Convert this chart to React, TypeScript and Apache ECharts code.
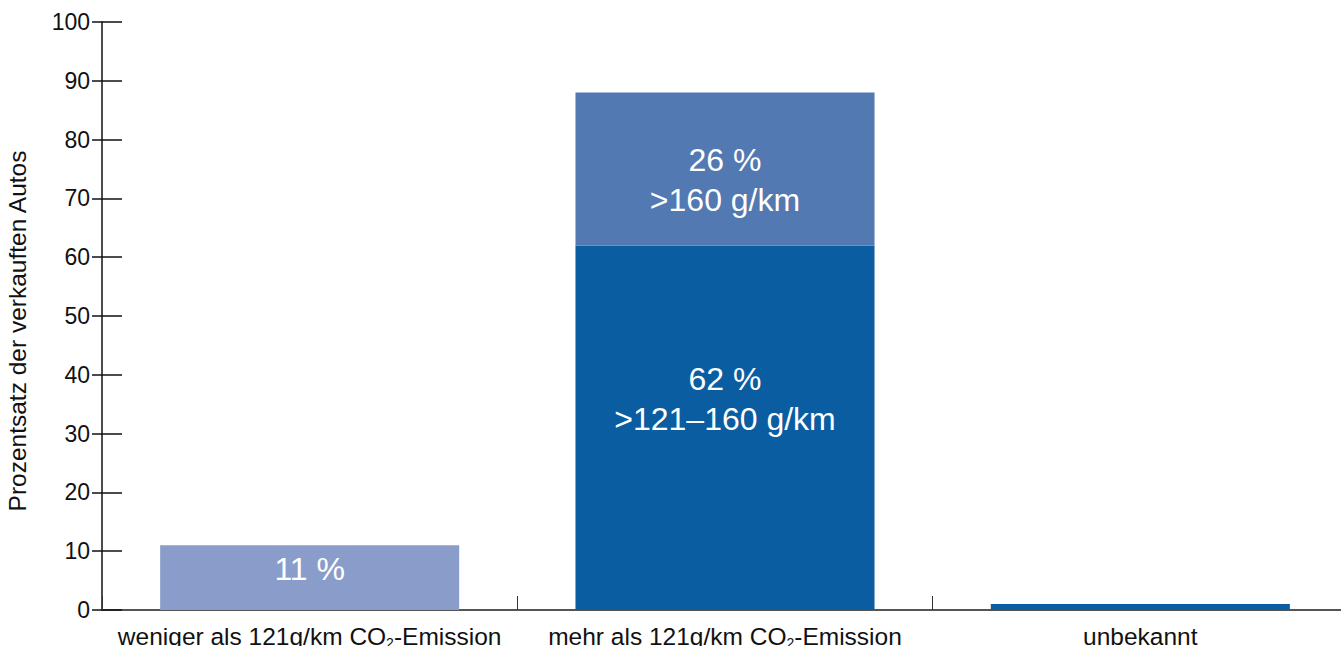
import React, { useEffect, useRef } from "react";
import * as echarts from "echarts";

const categories = [
  "weniger als 121g/km CO2-Emission",
  "mehr als 121g/km CO2-Emission",
  "unbekannt",
];
const lowShare = [11, null, null];
const midShare = [null, 62, 1];
const highShare = [null, 26, null];
const lowLabels = ["11 %", "", ""];
const midLabels = ["", "62 %\n>121–160 g/km", ""];
const highLabels = ["", "26 %\n>160 g/km", ""];
const yTicks = [0, 10, 20, 30, 40, 50, 60, 70, 80, 90, 100];

const FONT = "Liberation Sans, Arial, Helvetica, sans-serif";

function fmtCat(v: string) {
  const parts = v.split("CO2");
  if (parts.length === 2) return `{n|${parts[0]}CO}{s|2}{n|${parts[1]}}`;
  return `{n|${v}}`;
}

function toData(vals: (number | null)[]) {
  return vals.map((v) => (v == null ? "-" : v));
}

export default function App() {
  const ref = useRef<HTMLDivElement>(null);
  useEffect(() => {
    if (!ref.current) return;
    const chart = echarts.init(ref.current, undefined, { renderer: "svg" });
    const barLabel = (texts: string[], offsetY: number) => ({
      show: true,
      position: "inside",
      offset: [0, offsetY],
      color: "#ffffff",
      fontFamily: FONT,
      fontSize: 32,
      lineHeight: 40,
      align: "center",
      formatter: (p: any) => texts[p.dataIndex] || "",
    });
    chart.setOption({
      animation: false,
      backgroundColor: "#ffffff",
      grid: {
        left: 102,
        top: 22,
        bottom: 36,
        width: 1246,
        containLabel: false,
        outerBoundsMode: "none",
      },
      xAxis: {
        type: "category",
        data: categories,
        axisLine: { show: true, lineStyle: { color: "#555555", width: 2 } },
        axisTick: { show: true, inside: true, length: 14, lineStyle: { color: "#333333", width: 1 } },
        axisLabel: {
          margin: 12,
          formatter: fmtCat,
          rich: {
            n: { fontFamily: FONT, fontSize: 24.5, lineHeight: 28, color: "#111111" },
            s: { fontFamily: FONT, fontSize: 14, lineHeight: 14, verticalAlign: "bottom", color: "#111111" },
          },
        },
        splitLine: { show: false },
      },
      yAxis: [
        {
          type: "value",
          min: yTicks[0],
          max: yTicks[yTicks.length - 1],
          interval: 10,
          name: "Prozentsatz der verkauften Autos",
          nameLocation: "middle",
          nameRotate: 90,
          nameGap: 72,
          nameTextStyle: { fontFamily: FONT, fontSize: 24.5, color: "#111111", padding: [0, 30, 0, 0] },
          axisLine: { show: true, lineStyle: { color: "#111111", width: 1.5 } },
          axisTick: { show: true, inside: false, length: 10, lineStyle: { color: "#111111", width: 1.5 } },
          axisLabel: { margin: 12, fontFamily: FONT, fontSize: 23, color: "#111111" },
          splitLine: { show: false },
        },
        {
          type: "value",
          position: "left",
          min: yTicks[0],
          max: yTicks[yTicks.length - 1],
          interval: 10,
          axisLine: { show: false },
          axisTick: { show: true, inside: true, length: 20, lineStyle: { color: "#111111", width: 1.5 } },
          axisLabel: { show: false },
          splitLine: { show: false },
        },
      ],
      series: [
        {
          type: "bar",
          stack: "total",
          barWidth: "72%",
          data: toData(lowShare),
          itemStyle: { color: "#8A9DCA" },
          label: barLabel(lowLabels, -9),
        },
        {
          type: "bar",
          stack: "total",
          barWidth: "72%",
          data: toData(midShare),
          itemStyle: { color: "#0A5DA0" },
          label: barLabel(midLabels, -29),
        },
        {
          type: "bar",
          stack: "total",
          barWidth: "72%",
          data: toData(highShare),
          itemStyle: { color: "#5279B2" },
          label: barLabel(highLabels, 11),
        },
      ],
    });
    return () => chart.dispose();
  }, []);
  return (
    <div
      ref={ref}
      style={{ position: "fixed", left: 0, top: 0, width: 1341, height: 646, background: "#fff" }}
    />
  );
}
